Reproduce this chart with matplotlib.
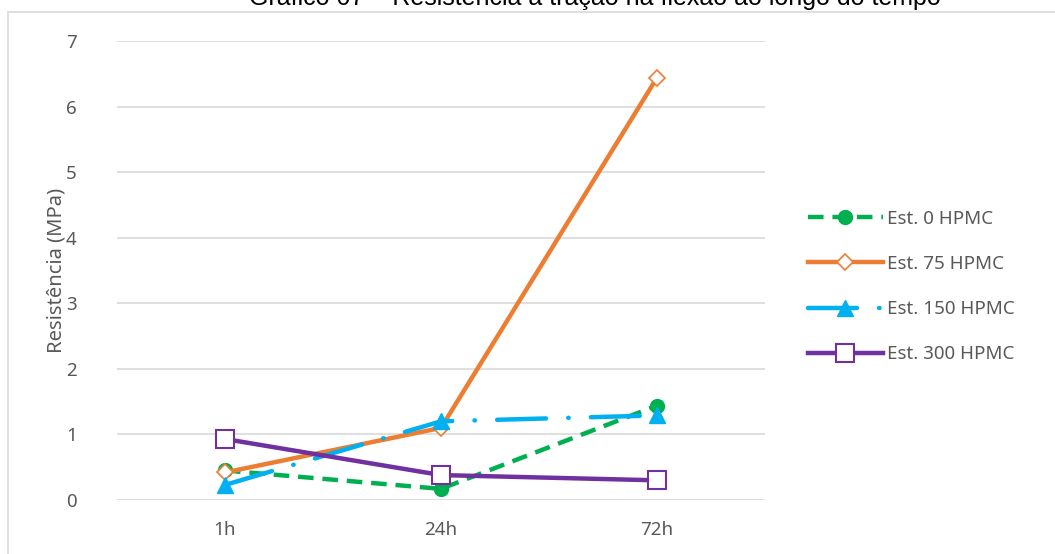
import matplotlib
matplotlib.use("Agg")
from matplotlib import pyplot as plt
from matplotlib.patches import Rectangle

# dados
tempos = ["1h", "24h", "72h"]
est_0 = [0.45, 0.17, 1.44]
est_75 = [0.42, 1.10, 6.44]
est_150 = [0.23, 1.20, 1.29]
est_300 = [0.93, 0.38, 0.30]
nomes = ["Est. 0 HPMC", "Est. 75 HPMC", "Est. 150 HPMC", "Est. 300 HPMC"]

def main():
    plt.rcParams['font.family'] = ['Noto Sans', 'DejaVu Sans']
    fig = plt.figure(figsize=(10.55, 5.54), dpi=100)
    W, H = 1055, 554
    ax = fig.add_axes([117 / W, 1 - 500 / H, (765 - 117) / W, (500 - 41) / H])

    x = list(range(len(tempos)))
    ax.plot(x, est_0, color="#00B050", lw=3.2, ls=(0, (3.5, 2)), marker="o", ms=10,
            label=nomes[0], zorder=3)
    ax.plot(x, est_75, color="#ED7D31", lw=3.2, marker="D", ms=8, mfc="white",
            mec="#ED7D31", mew=1.2, label=nomes[1], zorder=4)
    ax.plot(x, est_150, color="#00B0F0", lw=3.2, ls=(0, (11, 5, 0.1, 5)),
            dash_capstyle="round", marker="^", ms=12, label=nomes[2], zorder=5)
    ax.plot(x, est_300, color="#7030A0", lw=3.2, marker="s", ms=13, mfc="white",
            mec="#7030A0", mew=1.5, label=nomes[3], zorder=6)

    ax.set_xlim(-0.5, 2.5)
    ax.set_ylim(0, 7)
    ax.set_xticks(x)
    ax.set_xticklabels(tempos)
    ax.set_yticks(range(0, 8))
    ax.grid(axis="y", color="#d9d9d9", lw=1.2)
    ax.set_axisbelow(True)
    for s in ax.spines.values():
        s.set_visible(False)
    ax.tick_params(length=0, labelsize=13.5, colors="#595959", pad=15)
    ax.tick_params(axis="y", pad=29)
    ax.set_ylabel("Resistência (MPa)", fontsize=14.5, color="#595959")
    ax.yaxis.set_label_coords(-0.078, 0.5)

    ax.legend(loc="center left", bbox_to_anchor=(1.04, 0.465), frameon=False,
              fontsize=13.5, labelcolor="#595959", handlelength=4.0,
              handletextpad=0.2, labelspacing=1.45)

    fig.patches.append(Rectangle((8 / W, -0.1), 1.2, 1 - 12 / H + 0.1,
                                 transform=fig.transFigure, fill=False,
                                 edgecolor="#d9d9d9", lw=1.2))
    fig.text(595 / W, 1 - 5 / H, "Gráfico 07 – Resistência à tração na flexão ao longo do tempo",
             ha="center", va="baseline", fontsize=18, family="Liberation Sans",
             color="#000000")

    fig.savefig("out.png", dpi=100)

if __name__ == '__main__':
    main()
